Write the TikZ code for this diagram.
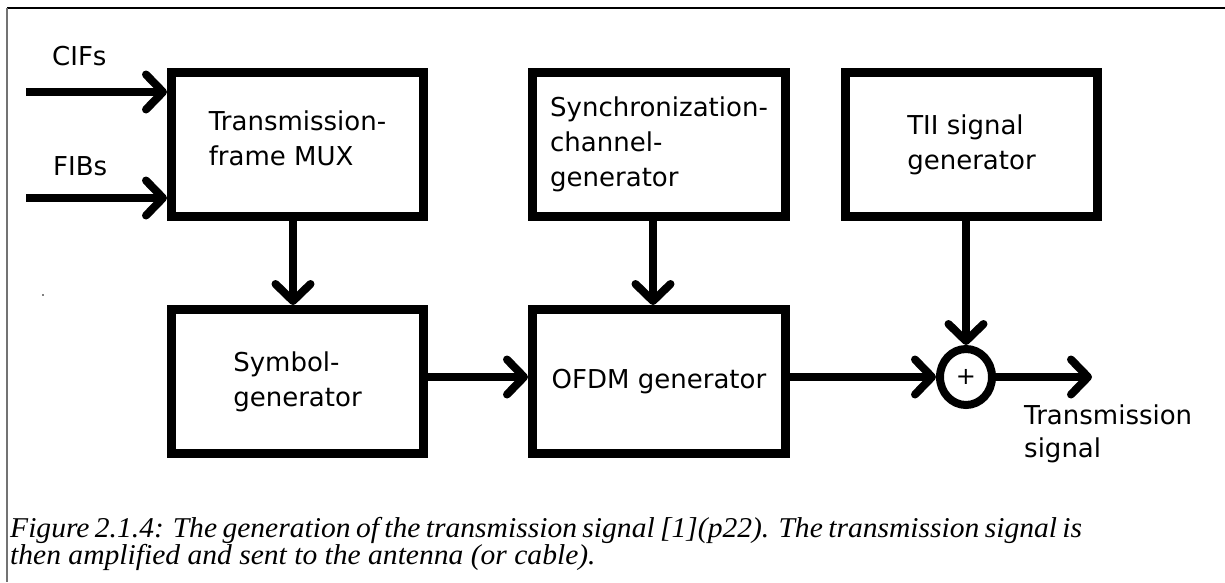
\documentclass[tikz,border=0pt]{standalone}
\usepackage{fontspec}
\setmainfont{Liberation Serif}
\newfontfamily\dejavu{DejaVu Sans}
\newfontfamily\capfont[FakeStretch=1.03]{Liberation Serif}
\usetikzlibrary{arrows.meta,shapes.geometric}
\begin{document}
\begin{tikzpicture}[x=1pt,y=-1pt,
  box/.style={draw, line width=9pt, minimum width=252pt, minimum height=144pt, inner sep=0pt, align=left, font=\dejavu\fontsize{26}{35}\selectfont},
  lbl/.style={inner sep=0pt, align=left, font=\dejavu\fontsize{26}{33}\selectfont},
  arr/.style={line width=8pt, -{Straight Barb[length=17pt,width=35pt,round]}},
  sumnode/.style={draw, ellipse, line width=8pt, minimum width=52pt, minimum height=56pt, inner sep=0pt, font=\dejavu\fontsize{24}{24}\selectfont},
]
\useasboundingbox (0,0) rectangle (1225,582);
\fill[white] (0,0) rectangle (1225,582);
% frame
\draw[line width=1.2pt] (7,8) -- (1225,8);
\draw[black!55, line width=2pt] (7,8) -- (7,582);
\fill (43,295) circle (0.9pt);

% boxes
\node[box] (mux)  at (297.5,144.5) {Transmission-\\frame MUX\rule[-12pt]{0pt}{12pt}};
\node[box, minimum width=253pt] (sync) at (659,144.5) {Synchronization-\\channel-\\generator};
\node[box] (tii)  at (971.5,144.5) {TII signal\\generator};
\node[box] (sym)  at (297.5,381.5) {Symbol-\\generator};
\node[box, minimum width=253pt] (ofdm) at (659,381.5) {OFDM generator};
\node[sumnode] (sum) at (966,377) {+};

% labels
\node[lbl, anchor=base west] (cifs) at (52,65) {CIFs};
\node[lbl, anchor=base west] (fibs) at (53,175) {FIBs};
\node[lbl, anchor=north west] (tsig) at (1024,405) {Transmission\\signal};
\node[inner sep=0pt, anchor=north west, align=left, font=\capfont\itshape\fontsize{28.7}{26}\selectfont] (cap) at (10,515)
  {\makebox[1072pt][s]{\rule{0pt}{22pt}Figure 2.1.4: The generation of the transmission signal [1](p22). The transmission signal is}\\then amplified and sent to the antenna (or cable).};

% connectors
\coordinate (cifsrc) at (26,92);
\coordinate (fibsrc) at (26,198);
\coordinate (out) at (1092,377);
\draw[arr] (cifsrc) -- (mux.west |- cifsrc);
\draw[arr] (fibsrc) -- (mux.west |- fibsrc);
\draw[arr] ([xshift=-4.5pt]mux.south) -- ([xshift=-4.5pt]sym.north);
\draw[arr] ([xshift=-6pt]sync.south) -- ([xshift=-6pt]ofdm.north);
\draw[arr] (tii.south -| sum.center) -- (sum.north);
\draw[arr] (sym.east |- sum.center) -- (ofdm.west |- sum.center);
\draw[arr] (ofdm.east |- sum.center) -- (sum.west);
\draw[arr] (sum.east) -- (out);
\end{tikzpicture}
\end{document}
